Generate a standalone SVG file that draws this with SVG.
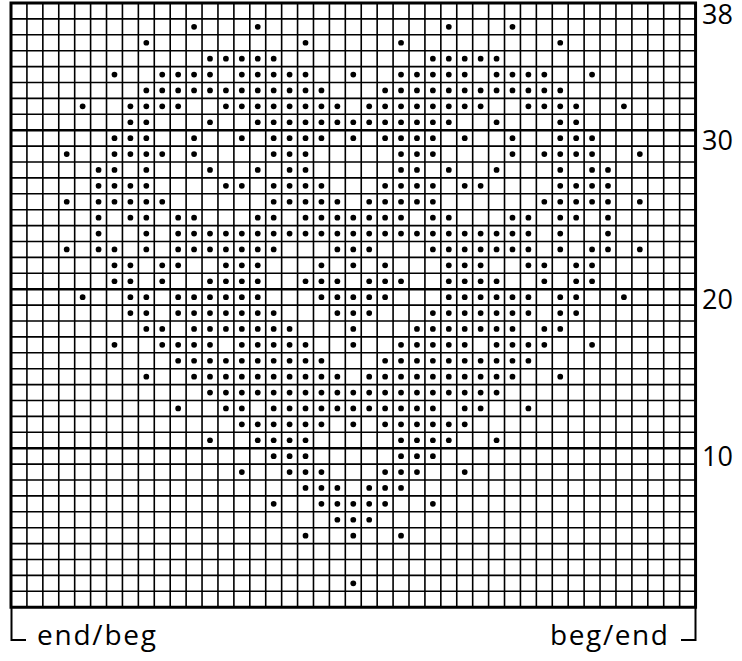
<svg xmlns="http://www.w3.org/2000/svg" width="742" height="661" viewBox="0 0 742 661">
<style>
.g{fill:none;stroke:#000;stroke-width:1.6;vector-effect:non-scaling-stroke}
.t{fill:none;stroke:#000;stroke-width:2.6;vector-effect:non-scaling-stroke}
.b{fill:none;stroke:#000;stroke-width:3;vector-effect:non-scaling-stroke}
.d circle{fill:#000}
.lbl{font-family:"Open Sans","Liberation Sans",sans-serif;font-size:27px;fill:#000}
.bl{font-family:"Open Sans","Liberation Sans",sans-serif;font-size:28px;fill:#000}
.br{fill:none;stroke:#000;stroke-width:2}
</style>
<rect width="742" height="661" fill="#fff"/>
<g id="chart" transform="translate(11 3) scale(15.92 15.9)">
<path class="g" d="M1 0V38M2 0V38M3 0V38M4 0V38M5 0V38M6 0V38M7 0V38M8 0V38M9 0V38M10 0V38M11 0V38M12 0V38M13 0V38M14 0V38M15 0V38M16 0V38M17 0V38M18 0V38M19 0V38M20 0V38M21 0V38M22 0V38M23 0V38M24 0V38M25 0V38M26 0V38M27 0V38M28 0V38M29 0V38M30 0V38M31 0V38M32 0V38M33 0V38M34 0V38M35 0V38M36 0V38M37 0V38M38 0V38M39 0V38M40 0V38M41 0V38M42 0V38
M0 1H43M0 2H43M0 3H43M0 4H43M0 5H43M0 6H43M0 7H43M0 9H43M0 10H43M0 11H43M0 12H43M0 13H43M0 14H43M0 15H43M0 16H43M0 17H43M0 19H43M0 20H43M0 21H43M0 22H43M0 23H43M0 24H43M0 25H43M0 26H43M0 27H43M0 29H43M0 30H43M0 31H43M0 32H43M0 33H43M0 34H43M0 35H43M0 36H43M0 37H43"/>
<path class="t" d="M0 8H43M0 18H43M0 28H43"/>
<rect class="b" x="0" y="0" width="43" height="38"/>
<g class="d">
<g transform="translate(0 1.5)"><circle cx="11.5" r=".18"/><circle cx="15.5" r=".18"/><circle cx="27.5" r=".18"/><circle cx="31.5" r=".18"/></g>
<g transform="translate(0 2.5)"><circle cx="8.5" r=".18"/><circle cx="18.5" r=".18"/><circle cx="24.5" r=".18"/><circle cx="34.5" r=".18"/></g>
<g transform="translate(0 3.5)"><circle cx="12.5" r=".18"/><circle cx="13.5" r=".18"/><circle cx="14.5" r=".18"/><circle cx="15.5" r=".18"/><circle cx="16.5" r=".18"/><circle cx="26.5" r=".18"/><circle cx="27.5" r=".18"/><circle cx="28.5" r=".18"/><circle cx="29.5" r=".18"/><circle cx="30.5" r=".18"/></g>
<g transform="translate(0 4.5)"><circle cx="6.5" r=".18"/><circle cx="9.5" r=".18"/><circle cx="10.5" r=".18"/><circle cx="11.5" r=".18"/><circle cx="12.5" r=".18"/><circle cx="14.5" r=".18"/><circle cx="15.5" r=".18"/><circle cx="16.5" r=".18"/><circle cx="17.5" r=".18"/><circle cx="18.5" r=".18"/><circle cx="21.5" r=".18"/><circle cx="24.5" r=".18"/><circle cx="25.5" r=".18"/><circle cx="26.5" r=".18"/><circle cx="27.5" r=".18"/><circle cx="28.5" r=".18"/><circle cx="30.5" r=".18"/><circle cx="31.5" r=".18"/><circle cx="32.5" r=".18"/><circle cx="33.5" r=".18"/><circle cx="36.5" r=".18"/></g>
<g transform="translate(0 5.5)"><circle cx="8.5" r=".18"/><circle cx="9.5" r=".18"/><circle cx="10.5" r=".18"/><circle cx="11.5" r=".18"/><circle cx="12.5" r=".18"/><circle cx="13.5" r=".18"/><circle cx="14.5" r=".18"/><circle cx="15.5" r=".18"/><circle cx="16.5" r=".18"/><circle cx="17.5" r=".18"/><circle cx="18.5" r=".18"/><circle cx="19.5" r=".18"/><circle cx="23.5" r=".18"/><circle cx="24.5" r=".18"/><circle cx="25.5" r=".18"/><circle cx="26.5" r=".18"/><circle cx="27.5" r=".18"/><circle cx="28.5" r=".18"/><circle cx="29.5" r=".18"/><circle cx="30.5" r=".18"/><circle cx="31.5" r=".18"/><circle cx="32.5" r=".18"/><circle cx="33.5" r=".18"/><circle cx="34.5" r=".18"/></g>
<g transform="translate(0 6.5)"><circle cx="4.5" r=".18"/><circle cx="7.5" r=".18"/><circle cx="8.5" r=".18"/><circle cx="9.5" r=".18"/><circle cx="10.5" r=".18"/><circle cx="13.5" r=".18"/><circle cx="14.5" r=".18"/><circle cx="15.5" r=".18"/><circle cx="16.5" r=".18"/><circle cx="17.5" r=".18"/><circle cx="18.5" r=".18"/><circle cx="19.5" r=".18"/><circle cx="20.5" r=".18"/><circle cx="22.5" r=".18"/><circle cx="23.5" r=".18"/><circle cx="24.5" r=".18"/><circle cx="25.5" r=".18"/><circle cx="26.5" r=".18"/><circle cx="27.5" r=".18"/><circle cx="28.5" r=".18"/><circle cx="29.5" r=".18"/><circle cx="32.5" r=".18"/><circle cx="33.5" r=".18"/><circle cx="34.5" r=".18"/><circle cx="35.5" r=".18"/><circle cx="38.5" r=".18"/></g>
<g transform="translate(0 7.5)"><circle cx="7.5" r=".18"/><circle cx="8.5" r=".18"/><circle cx="12.5" r=".18"/><circle cx="15.5" r=".18"/><circle cx="16.5" r=".18"/><circle cx="17.5" r=".18"/><circle cx="18.5" r=".18"/><circle cx="19.5" r=".18"/><circle cx="20.5" r=".18"/><circle cx="21.5" r=".18"/><circle cx="22.5" r=".18"/><circle cx="23.5" r=".18"/><circle cx="24.5" r=".18"/><circle cx="25.5" r=".18"/><circle cx="26.5" r=".18"/><circle cx="27.5" r=".18"/><circle cx="30.5" r=".18"/><circle cx="34.5" r=".18"/><circle cx="35.5" r=".18"/></g>
<g transform="translate(0 8.5)"><circle cx="6.5" r=".18"/><circle cx="7.5" r=".18"/><circle cx="8.5" r=".18"/><circle cx="11.5" r=".18"/><circle cx="14.5" r=".18"/><circle cx="16.5" r=".18"/><circle cx="17.5" r=".18"/><circle cx="18.5" r=".18"/><circle cx="19.5" r=".18"/><circle cx="21.5" r=".18"/><circle cx="23.5" r=".18"/><circle cx="24.5" r=".18"/><circle cx="25.5" r=".18"/><circle cx="26.5" r=".18"/><circle cx="28.5" r=".18"/><circle cx="31.5" r=".18"/><circle cx="34.5" r=".18"/><circle cx="35.5" r=".18"/><circle cx="36.5" r=".18"/></g>
<g transform="translate(0 9.5)"><circle cx="3.5" r=".18"/><circle cx="6.5" r=".18"/><circle cx="7.5" r=".18"/><circle cx="8.5" r=".18"/><circle cx="9.5" r=".18"/><circle cx="11.5" r=".18"/><circle cx="16.5" r=".18"/><circle cx="17.5" r=".18"/><circle cx="18.5" r=".18"/><circle cx="24.5" r=".18"/><circle cx="25.5" r=".18"/><circle cx="26.5" r=".18"/><circle cx="31.5" r=".18"/><circle cx="33.5" r=".18"/><circle cx="34.5" r=".18"/><circle cx="35.5" r=".18"/><circle cx="36.5" r=".18"/><circle cx="39.5" r=".18"/></g>
<g transform="translate(0 10.5)"><circle cx="5.5" r=".18"/><circle cx="6.5" r=".18"/><circle cx="8.5" r=".18"/><circle cx="12.5" r=".18"/><circle cx="15.5" r=".18"/><circle cx="17.5" r=".18"/><circle cx="18.5" r=".18"/><circle cx="24.5" r=".18"/><circle cx="25.5" r=".18"/><circle cx="27.5" r=".18"/><circle cx="30.5" r=".18"/><circle cx="34.5" r=".18"/><circle cx="36.5" r=".18"/><circle cx="37.5" r=".18"/></g>
<g transform="translate(0 11.5)"><circle cx="5.5" r=".18"/><circle cx="6.5" r=".18"/><circle cx="7.5" r=".18"/><circle cx="8.5" r=".18"/><circle cx="13.5" r=".18"/><circle cx="14.5" r=".18"/><circle cx="16.5" r=".18"/><circle cx="17.5" r=".18"/><circle cx="18.5" r=".18"/><circle cx="19.5" r=".18"/><circle cx="23.5" r=".18"/><circle cx="24.5" r=".18"/><circle cx="25.5" r=".18"/><circle cx="26.5" r=".18"/><circle cx="28.5" r=".18"/><circle cx="29.5" r=".18"/><circle cx="34.5" r=".18"/><circle cx="35.5" r=".18"/><circle cx="36.5" r=".18"/><circle cx="37.5" r=".18"/></g>
<g transform="translate(0 12.5)"><circle cx="3.5" r=".18"/><circle cx="5.5" r=".18"/><circle cx="6.5" r=".18"/><circle cx="7.5" r=".18"/><circle cx="8.5" r=".18"/><circle cx="9.5" r=".18"/><circle cx="16.5" r=".18"/><circle cx="17.5" r=".18"/><circle cx="18.5" r=".18"/><circle cx="19.5" r=".18"/><circle cx="20.5" r=".18"/><circle cx="22.5" r=".18"/><circle cx="23.5" r=".18"/><circle cx="24.5" r=".18"/><circle cx="25.5" r=".18"/><circle cx="26.5" r=".18"/><circle cx="33.5" r=".18"/><circle cx="34.5" r=".18"/><circle cx="35.5" r=".18"/><circle cx="36.5" r=".18"/><circle cx="37.5" r=".18"/><circle cx="39.5" r=".18"/></g>
<g transform="translate(0 13.5)"><circle cx="5.5" r=".18"/><circle cx="7.5" r=".18"/><circle cx="8.5" r=".18"/><circle cx="10.5" r=".18"/><circle cx="11.5" r=".18"/><circle cx="15.5" r=".18"/><circle cx="16.5" r=".18"/><circle cx="18.5" r=".18"/><circle cx="19.5" r=".18"/><circle cx="20.5" r=".18"/><circle cx="21.5" r=".18"/><circle cx="22.5" r=".18"/><circle cx="23.5" r=".18"/><circle cx="24.5" r=".18"/><circle cx="26.5" r=".18"/><circle cx="27.5" r=".18"/><circle cx="31.5" r=".18"/><circle cx="32.5" r=".18"/><circle cx="34.5" r=".18"/><circle cx="35.5" r=".18"/><circle cx="37.5" r=".18"/></g>
<g transform="translate(0 14.5)"><circle cx="5.5" r=".18"/><circle cx="8.5" r=".18"/><circle cx="10.5" r=".18"/><circle cx="11.5" r=".18"/><circle cx="12.5" r=".18"/><circle cx="13.5" r=".18"/><circle cx="14.5" r=".18"/><circle cx="15.5" r=".18"/><circle cx="16.5" r=".18"/><circle cx="17.5" r=".18"/><circle cx="18.5" r=".18"/><circle cx="19.5" r=".18"/><circle cx="20.5" r=".18"/><circle cx="21.5" r=".18"/><circle cx="22.5" r=".18"/><circle cx="23.5" r=".18"/><circle cx="24.5" r=".18"/><circle cx="25.5" r=".18"/><circle cx="26.5" r=".18"/><circle cx="27.5" r=".18"/><circle cx="28.5" r=".18"/><circle cx="29.5" r=".18"/><circle cx="30.5" r=".18"/><circle cx="31.5" r=".18"/><circle cx="32.5" r=".18"/><circle cx="34.5" r=".18"/><circle cx="37.5" r=".18"/></g>
<g transform="translate(0 15.5)"><circle cx="3.5" r=".18"/><circle cx="5.5" r=".18"/><circle cx="6.5" r=".18"/><circle cx="8.5" r=".18"/><circle cx="10.5" r=".18"/><circle cx="11.5" r=".18"/><circle cx="12.5" r=".18"/><circle cx="13.5" r=".18"/><circle cx="14.5" r=".18"/><circle cx="15.5" r=".18"/><circle cx="16.5" r=".18"/><circle cx="20.5" r=".18"/><circle cx="21.5" r=".18"/><circle cx="22.5" r=".18"/><circle cx="26.5" r=".18"/><circle cx="27.5" r=".18"/><circle cx="28.5" r=".18"/><circle cx="29.5" r=".18"/><circle cx="30.5" r=".18"/><circle cx="31.5" r=".18"/><circle cx="32.5" r=".18"/><circle cx="34.5" r=".18"/><circle cx="36.5" r=".18"/><circle cx="37.5" r=".18"/><circle cx="39.5" r=".18"/></g>
<g transform="translate(0 16.5)"><circle cx="6.5" r=".18"/><circle cx="7.5" r=".18"/><circle cx="9.5" r=".18"/><circle cx="10.5" r=".18"/><circle cx="13.5" r=".18"/><circle cx="14.5" r=".18"/><circle cx="15.5" r=".18"/><circle cx="19.5" r=".18"/><circle cx="21.5" r=".18"/><circle cx="23.5" r=".18"/><circle cx="27.5" r=".18"/><circle cx="28.5" r=".18"/><circle cx="29.5" r=".18"/><circle cx="32.5" r=".18"/><circle cx="33.5" r=".18"/><circle cx="35.5" r=".18"/><circle cx="36.5" r=".18"/></g>
<g transform="translate(0 17.5)"><circle cx="6.5" r=".18"/><circle cx="7.5" r=".18"/><circle cx="9.5" r=".18"/><circle cx="12.5" r=".18"/><circle cx="13.5" r=".18"/><circle cx="14.5" r=".18"/><circle cx="15.5" r=".18"/><circle cx="18.5" r=".18"/><circle cx="19.5" r=".18"/><circle cx="20.5" r=".18"/><circle cx="22.5" r=".18"/><circle cx="23.5" r=".18"/><circle cx="24.5" r=".18"/><circle cx="27.5" r=".18"/><circle cx="28.5" r=".18"/><circle cx="29.5" r=".18"/><circle cx="30.5" r=".18"/><circle cx="33.5" r=".18"/><circle cx="35.5" r=".18"/><circle cx="36.5" r=".18"/></g>
<g transform="translate(0 18.5)"><circle cx="4.5" r=".18"/><circle cx="7.5" r=".18"/><circle cx="8.5" r=".18"/><circle cx="10.5" r=".18"/><circle cx="11.5" r=".18"/><circle cx="12.5" r=".18"/><circle cx="13.5" r=".18"/><circle cx="14.5" r=".18"/><circle cx="15.5" r=".18"/><circle cx="19.5" r=".18"/><circle cx="20.5" r=".18"/><circle cx="21.5" r=".18"/><circle cx="22.5" r=".18"/><circle cx="23.5" r=".18"/><circle cx="27.5" r=".18"/><circle cx="28.5" r=".18"/><circle cx="29.5" r=".18"/><circle cx="30.5" r=".18"/><circle cx="31.5" r=".18"/><circle cx="32.5" r=".18"/><circle cx="34.5" r=".18"/><circle cx="35.5" r=".18"/><circle cx="38.5" r=".18"/></g>
<g transform="translate(0 19.5)"><circle cx="7.5" r=".18"/><circle cx="8.5" r=".18"/><circle cx="10.5" r=".18"/><circle cx="11.5" r=".18"/><circle cx="12.5" r=".18"/><circle cx="13.5" r=".18"/><circle cx="14.5" r=".18"/><circle cx="15.5" r=".18"/><circle cx="16.5" r=".18"/><circle cx="20.5" r=".18"/><circle cx="21.5" r=".18"/><circle cx="22.5" r=".18"/><circle cx="26.5" r=".18"/><circle cx="27.5" r=".18"/><circle cx="28.5" r=".18"/><circle cx="29.5" r=".18"/><circle cx="30.5" r=".18"/><circle cx="31.5" r=".18"/><circle cx="32.5" r=".18"/><circle cx="34.5" r=".18"/><circle cx="35.5" r=".18"/></g>
<g transform="translate(0 20.5)"><circle cx="8.5" r=".18"/><circle cx="9.5" r=".18"/><circle cx="11.5" r=".18"/><circle cx="12.5" r=".18"/><circle cx="13.5" r=".18"/><circle cx="14.5" r=".18"/><circle cx="15.5" r=".18"/><circle cx="16.5" r=".18"/><circle cx="17.5" r=".18"/><circle cx="21.5" r=".18"/><circle cx="25.5" r=".18"/><circle cx="26.5" r=".18"/><circle cx="27.5" r=".18"/><circle cx="28.5" r=".18"/><circle cx="29.5" r=".18"/><circle cx="30.5" r=".18"/><circle cx="31.5" r=".18"/><circle cx="33.5" r=".18"/><circle cx="34.5" r=".18"/></g>
<g transform="translate(0 21.5)"><circle cx="6.5" r=".18"/><circle cx="9.5" r=".18"/><circle cx="10.5" r=".18"/><circle cx="11.5" r=".18"/><circle cx="12.5" r=".18"/><circle cx="14.5" r=".18"/><circle cx="15.5" r=".18"/><circle cx="16.5" r=".18"/><circle cx="17.5" r=".18"/><circle cx="18.5" r=".18"/><circle cx="21.5" r=".18"/><circle cx="24.5" r=".18"/><circle cx="25.5" r=".18"/><circle cx="26.5" r=".18"/><circle cx="27.5" r=".18"/><circle cx="28.5" r=".18"/><circle cx="30.5" r=".18"/><circle cx="31.5" r=".18"/><circle cx="32.5" r=".18"/><circle cx="33.5" r=".18"/><circle cx="36.5" r=".18"/></g>
<g transform="translate(0 22.5)"><circle cx="10.5" r=".18"/><circle cx="11.5" r=".18"/><circle cx="12.5" r=".18"/><circle cx="13.5" r=".18"/><circle cx="14.5" r=".18"/><circle cx="15.5" r=".18"/><circle cx="16.5" r=".18"/><circle cx="17.5" r=".18"/><circle cx="18.5" r=".18"/><circle cx="19.5" r=".18"/><circle cx="23.5" r=".18"/><circle cx="24.5" r=".18"/><circle cx="25.5" r=".18"/><circle cx="26.5" r=".18"/><circle cx="27.5" r=".18"/><circle cx="28.5" r=".18"/><circle cx="29.5" r=".18"/><circle cx="30.5" r=".18"/><circle cx="31.5" r=".18"/><circle cx="32.5" r=".18"/></g>
<g transform="translate(0 23.5)"><circle cx="8.5" r=".18"/><circle cx="11.5" r=".18"/><circle cx="12.5" r=".18"/><circle cx="13.5" r=".18"/><circle cx="14.5" r=".18"/><circle cx="15.5" r=".18"/><circle cx="16.5" r=".18"/><circle cx="17.5" r=".18"/><circle cx="18.5" r=".18"/><circle cx="19.5" r=".18"/><circle cx="20.5" r=".18"/><circle cx="22.5" r=".18"/><circle cx="23.5" r=".18"/><circle cx="24.5" r=".18"/><circle cx="25.5" r=".18"/><circle cx="26.5" r=".18"/><circle cx="27.5" r=".18"/><circle cx="28.5" r=".18"/><circle cx="29.5" r=".18"/><circle cx="30.5" r=".18"/><circle cx="31.5" r=".18"/><circle cx="34.5" r=".18"/></g>
<g transform="translate(0 24.5)"><circle cx="12.5" r=".18"/><circle cx="13.5" r=".18"/><circle cx="14.5" r=".18"/><circle cx="15.5" r=".18"/><circle cx="16.5" r=".18"/><circle cx="17.5" r=".18"/><circle cx="18.5" r=".18"/><circle cx="19.5" r=".18"/><circle cx="20.5" r=".18"/><circle cx="21.5" r=".18"/><circle cx="22.5" r=".18"/><circle cx="23.5" r=".18"/><circle cx="24.5" r=".18"/><circle cx="25.5" r=".18"/><circle cx="26.5" r=".18"/><circle cx="27.5" r=".18"/><circle cx="28.5" r=".18"/><circle cx="29.5" r=".18"/><circle cx="30.5" r=".18"/></g>
<g transform="translate(0 25.5)"><circle cx="10.5" r=".18"/><circle cx="13.5" r=".18"/><circle cx="14.5" r=".18"/><circle cx="16.5" r=".18"/><circle cx="17.5" r=".18"/><circle cx="18.5" r=".18"/><circle cx="19.5" r=".18"/><circle cx="20.5" r=".18"/><circle cx="21.5" r=".18"/><circle cx="22.5" r=".18"/><circle cx="23.5" r=".18"/><circle cx="24.5" r=".18"/><circle cx="25.5" r=".18"/><circle cx="26.5" r=".18"/><circle cx="28.5" r=".18"/><circle cx="29.5" r=".18"/><circle cx="32.5" r=".18"/></g>
<g transform="translate(0 26.5)"><circle cx="14.5" r=".18"/><circle cx="15.5" r=".18"/><circle cx="16.5" r=".18"/><circle cx="17.5" r=".18"/><circle cx="18.5" r=".18"/><circle cx="19.5" r=".18"/><circle cx="21.5" r=".18"/><circle cx="23.5" r=".18"/><circle cx="24.5" r=".18"/><circle cx="25.5" r=".18"/><circle cx="26.5" r=".18"/><circle cx="27.5" r=".18"/><circle cx="28.5" r=".18"/></g>
<g transform="translate(0 27.5)"><circle cx="12.5" r=".18"/><circle cx="15.5" r=".18"/><circle cx="16.5" r=".18"/><circle cx="17.5" r=".18"/><circle cx="18.5" r=".18"/><circle cx="24.5" r=".18"/><circle cx="25.5" r=".18"/><circle cx="26.5" r=".18"/><circle cx="27.5" r=".18"/><circle cx="30.5" r=".18"/></g>
<g transform="translate(0 28.5)"><circle cx="16.5" r=".18"/><circle cx="17.5" r=".18"/><circle cx="18.5" r=".18"/><circle cx="24.5" r=".18"/><circle cx="25.5" r=".18"/><circle cx="26.5" r=".18"/></g>
<g transform="translate(0 29.5)"><circle cx="14.5" r=".18"/><circle cx="17.5" r=".18"/><circle cx="18.5" r=".18"/><circle cx="19.5" r=".18"/><circle cx="23.5" r=".18"/><circle cx="24.5" r=".18"/><circle cx="25.5" r=".18"/><circle cx="28.5" r=".18"/></g>
<g transform="translate(0 30.5)"><circle cx="18.5" r=".18"/><circle cx="19.5" r=".18"/><circle cx="20.5" r=".18"/><circle cx="22.5" r=".18"/><circle cx="23.5" r=".18"/><circle cx="24.5" r=".18"/></g>
<g transform="translate(0 31.5)"><circle cx="16.5" r=".18"/><circle cx="19.5" r=".18"/><circle cx="20.5" r=".18"/><circle cx="21.5" r=".18"/><circle cx="22.5" r=".18"/><circle cx="23.5" r=".18"/><circle cx="26.5" r=".18"/></g>
<g transform="translate(0 32.5)"><circle cx="20.5" r=".18"/><circle cx="21.5" r=".18"/><circle cx="22.5" r=".18"/></g>
<g transform="translate(0 33.5)"><circle cx="18.5" r=".18"/><circle cx="21.5" r=".18"/><circle cx="24.5" r=".18"/></g>
<g transform="translate(0 36.5)"><circle cx="21.5" r=".18"/></g>
</g>
</g>
<g id="row-labels" class="lbl">
<text x="702" y="24">38</text>
<text x="702" y="150">30</text>
<text x="702" y="309">20</text>
<text x="702" y="466">10</text>
</g>
<g id="brackets">
<path class="br" d="M11.5 607V640H26"/>
<path class="br" d="M695.5 607V640H681"/>
</g>
<g id="bottom-labels" class="bl">
<text x="37" y="645" textLength="119">end/beg</text>
<text x="550" y="645" textLength="118">beg/end</text>
</g>
</svg>
